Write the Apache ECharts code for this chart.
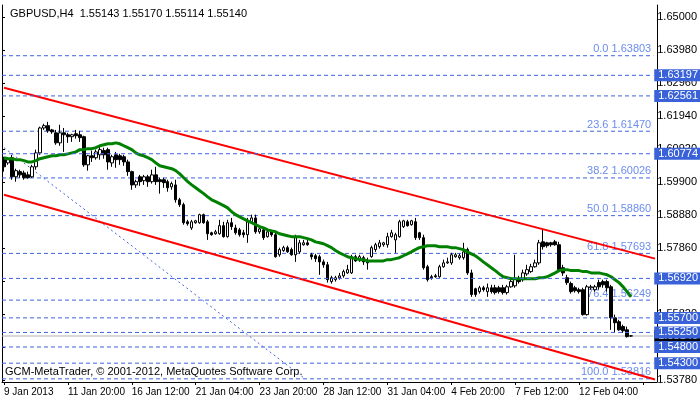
<!DOCTYPE html>
<html><head><meta charset="utf-8">
<script src="https://cdn.jsdelivr.net/npm/echarts@6/dist/echarts.min.js"></script>
<style>html,body{margin:0;padding:0;background:#fff}#c{width:700px;height:402px}</style>
</head><body><div id="c"></div>
<script>
const OPEN=[1.6059,1.6049,1.6065,1.6006,1.6022,1.6018,1.6012,1.6006,1.6037,1.6080,1.6157,1.6164,1.6151,1.6142,1.6111,1.6142,1.6136,1.6130,1.6139,1.6136,
1.6130,1.6043,1.6071,1.6065,1.6074,1.6087,1.6090,1.6049,1.6074,1.6071,1.6068,1.6052,1.6022,1.5981,1.6006,1.5994,1.6006,1.5991,1.6012,1.5997,
1.5997,1.5991,1.5975,1.5981,1.5935,1.5920,1.5867,1.5848,1.5864,1.5864,1.5889,1.5867,1.5833,1.5830,1.5830,1.5855,1.5821,1.5864,1.5848,1.5842,
1.5833,1.5827,1.5867,1.5879,1.5836,1.5842,1.5821,1.5836,1.5827,1.5765,1.5778,1.5787,1.5781,1.5765,1.5774,1.5796,1.5802,1.5765,1.5762,1.5759,
1.5743,1.5734,1.5682,1.5688,1.5694,1.5700,1.5709,1.5709,1.5759,1.5750,1.5756,1.5746,1.5759,1.5781,1.5790,1.5796,1.5796,1.5821,1.5811,1.5821,
1.5852,1.5867,1.5858,1.5867,1.5833,1.5818,1.5728,1.5697,1.5700,1.5697,1.5728,1.5740,1.5740,1.5759,1.5756,1.5756,1.5781,1.5709,1.5660,1.5651,
1.5663,1.5651,1.5663,1.5663,1.5663,1.5663,1.5648,1.5666,1.5669,1.5691,1.5688,1.5706,1.5713,1.5728,1.5740,1.5805,1.5802,1.5802,1.5805,1.5796,
1.5725,1.5694,1.5676,1.5663,1.5657,1.5657,1.5580,1.5663,1.5657,1.5679,1.5682,1.5682,1.5666,1.5570,1.5558,1.5543,1.5533,1.55143];
const CLOSE=[1.6037,1.6059,1.6006,1.6025,1.6012,1.6003,1.6003,1.6037,1.6080,1.6157,1.6164,1.6148,1.6145,1.6111,1.6142,1.6136,1.6130,1.6136,1.6133,1.6127,
1.6043,1.6071,1.6065,1.6083,1.6090,1.6074,1.6052,1.6068,1.6059,1.6059,1.6052,1.6022,1.5981,1.5991,1.5991,1.6006,1.5991,1.6012,1.5991,1.5991,
1.5988,1.5972,1.5985,1.5935,1.5920,1.5864,1.5861,1.5867,1.5870,1.5889,1.5864,1.5830,1.5827,1.5836,1.5855,1.5821,1.5864,1.5852,1.5833,1.5827,
1.5827,1.5867,1.5879,1.5836,1.5845,1.5818,1.5836,1.5827,1.5759,1.5781,1.5787,1.5774,1.5765,1.5818,1.5802,1.5802,1.5796,1.5759,1.5753,1.5743,
1.5734,1.5688,1.5694,1.5694,1.5700,1.5713,1.5719,1.5759,1.5746,1.5759,1.5743,1.5740,1.5787,1.5796,1.5802,1.5802,1.5821,1.5833,1.5827,1.5867,
1.5870,1.5855,1.5870,1.5818,1.5818,1.5725,1.5688,1.5694,1.5697,1.5728,1.5740,1.5743,1.5765,1.5765,1.5762,1.5774,1.5709,1.5642,1.5642,1.5663,
1.5657,1.5663,1.5651,1.5648,1.5651,1.5648,1.5666,1.5682,1.5691,1.5682,1.5709,1.5719,1.5728,1.5740,1.5802,1.5790,1.5793,1.5796,1.5796,1.5719,
1.5709,1.5679,1.5651,1.5654,1.5651,1.5580,1.5666,1.5666,1.5666,1.5666,1.5672,1.5663,1.5570,1.5555,1.5533,1.5530,1.5512,1.55140];
const LOW=[1.6022,1.6043,1.5997,1.5991,1.6003,1.5997,1.6000,1.6003,1.6028,1.6074,1.6151,1.6142,1.6139,1.6105,1.6102,1.6083,1.6111,1.6114,1.6124,1.6114,
1.6037,1.6025,1.6052,1.6059,1.6059,1.6062,1.6028,1.6037,1.6034,1.6043,1.6040,1.6009,1.5966,1.5972,1.5978,1.5981,1.5975,1.5985,1.5981,1.5954,
1.5972,1.5960,1.5966,1.5926,1.5913,1.5858,1.5855,1.5842,1.5861,1.5861,1.5861,1.5811,1.5824,1.5827,1.5827,1.5818,1.5818,1.5842,1.5827,1.5821,
1.5818,1.5802,1.5861,1.5830,1.5830,1.5811,1.5818,1.5821,1.5756,1.5759,1.5774,1.5771,1.5762,1.5743,1.5768,1.5793,1.5793,1.5750,1.5743,1.5703,
1.5725,1.5679,1.5676,1.5682,1.5688,1.5694,1.5706,1.5706,1.5743,1.5743,1.5734,1.5719,1.5756,1.5774,1.5784,1.5790,1.5787,1.5818,1.5771,1.5818,
1.5848,1.5852,1.5855,1.5811,1.5811,1.5719,1.5682,1.5688,1.5694,1.5694,1.5725,1.5737,1.5734,1.5756,1.5750,1.5750,1.5703,1.5635,1.5635,1.5645,
1.5651,1.5635,1.5645,1.5642,1.5645,1.5642,1.5642,1.5663,1.5663,1.5676,1.5682,1.5700,1.5709,1.5725,1.5734,1.5781,1.5787,1.5790,1.5793,1.5713,
1.5700,1.5672,1.5645,1.5648,1.5645,1.5577,1.5577,1.5657,1.5651,1.5657,1.5663,1.5651,1.5533,1.5524,1.5530,1.5524,1.5509,1.55114];
const HIGH=[1.6068,1.6065,1.6074,1.6031,1.6028,1.6025,1.6022,1.6043,1.6090,1.6161,1.6170,1.6176,1.6154,1.6151,1.6167,1.6157,1.6142,1.6139,1.6151,1.6148,
1.6133,1.6074,1.6087,1.6090,1.6099,1.6096,1.6096,1.6074,1.6083,1.6077,1.6074,1.6059,1.6025,1.5997,1.6012,1.6012,1.6012,1.6028,1.6037,1.6003,
1.6003,1.5997,1.5991,1.5997,1.5941,1.5926,1.5873,1.5873,1.5873,1.5892,1.5892,1.5873,1.5836,1.5842,1.5873,1.5867,1.5873,1.5879,1.5858,1.5848,
1.5842,1.5879,1.5889,1.5889,1.5852,1.5848,1.5842,1.5842,1.5836,1.5787,1.5793,1.5793,1.5787,1.5827,1.5811,1.5811,1.5811,1.5771,1.5768,1.5765,
1.5750,1.5743,1.5700,1.5700,1.5709,1.5719,1.5734,1.5765,1.5765,1.5765,1.5762,1.5756,1.5793,1.5802,1.5811,1.5805,1.5833,1.5842,1.5833,1.5873,
1.5873,1.5873,1.5873,1.5879,1.5836,1.5827,1.5734,1.5703,1.5706,1.5734,1.5750,1.5756,1.5771,1.5771,1.5768,1.5802,1.5787,1.5719,1.5663,1.5669,
1.5669,1.5676,1.5672,1.5672,1.5669,1.5672,1.5672,1.5691,1.5765,1.5700,1.5719,1.5734,1.5737,1.5750,1.5811,1.5842,1.5805,1.5805,1.5811,1.5805,
1.5734,1.5703,1.5682,1.5669,1.5663,1.5663,1.5672,1.5672,1.5672,1.5688,1.5688,1.5688,1.5672,1.5580,1.5564,1.5549,1.5543,1.55170];
const MA=[1.6065,1.6062,1.6062,1.6059,1.6059,1.6056,1.6052,1.6052,1.6056,1.6062,1.6065,1.6068,1.6071,1.6071,1.6074,1.6074,1.6077,1.6080,1.6083,1.6090,
1.6090,1.6093,1.6093,1.6096,1.6102,1.6105,1.6108,1.6108,1.6111,1.6108,1.6102,1.6096,1.6090,1.6080,1.6074,1.6071,1.6065,1.6059,1.6049,1.6040,
1.6037,1.6034,1.6031,1.6025,1.6015,1.6003,1.5991,1.5981,1.5972,1.5963,1.5954,1.5944,1.5935,1.5929,1.5923,1.5917,1.5910,1.5898,1.5889,1.5882,
1.5876,1.5870,1.5864,1.5858,1.5852,1.5848,1.5842,1.5839,1.5836,1.5830,1.5827,1.5824,1.5821,1.5821,1.5821,1.5818,1.5815,1.5811,1.5805,1.5802,
1.5799,1.5793,1.5787,1.5778,1.5771,1.5765,1.5759,1.5756,1.5753,1.5750,1.5750,1.5746,1.5746,1.5746,1.5746,1.5746,1.5750,1.5750,1.5753,1.5756,
1.5762,1.5768,1.5774,1.5781,1.5787,1.5790,1.5793,1.5793,1.5793,1.5790,1.5790,1.5790,1.5787,1.5787,1.5784,1.5781,1.5774,1.5768,1.5762,1.5753,
1.5743,1.5734,1.5725,1.5716,1.5706,1.5697,1.5694,1.5691,1.5691,1.5691,1.5691,1.5691,1.5691,1.5691,1.5694,1.5694,1.5697,1.5703,1.5709,1.5716,
1.5719,1.5719,1.5716,1.5716,1.5716,1.5713,1.5713,1.5709,1.5709,1.5709,1.5706,1.5703,1.5697,1.5688,1.5679,1.5666,1.5651,1.5635];
const N_SLOTS=164;
const X_LABELS={0:"9 Jan 2013",16:"11 Jan 20:00",32:"16 Jan 12:00",48:"21 Jan 04:00",64:"23 Jan 20:00",80:"28 Jan 12:00",96:"31 Jan 04:00",112:"4 Feb 20:00",128:"7 Feb 12:00",144:"12 Feb 04:00"};
const Y_TICK_MIN=1.5378, Y_TICK_MAX=1.65, Y_TICK_STEP=0.0102;
const FIB=[["0.0",1.63803],["23.6",1.61470],["38.2",1.60026],["50.0",1.58860],["61.8",1.57693],["76.4",1.56249],["100.0",1.53816]];
const HLINES=[1.63197,1.62561,1.60774,1.56920,1.55700,1.55250,1.54800,1.54300];
const LAST=1.55140;
const UPPER=[[0,1.62811],[163,1.57530]];
const LOWER=[[0,1.59505],[163,1.53792]];
const DIAG=[[0,1.6096],[75,1.5385]];

const cats=[];for(let i=0;i<N_SLOTS;i++)cats.push(X_LABELS[i]||'');
const candles=OPEN.map((o,i)=>[o,CLOSE[i],LOW[i],HIGH[i]]);
const F="Liberation Sans";
const blue='#3f63e0';
function hline(v,color,type,label,z){
  return {type:'line',xAxisIndex:1,yAxisIndex:1,data:[[0,v],[1,v]],symbol:'none',silent:true,z:z,
    lineStyle:{color:color,type:type,width:1},endLabel:label};
}
const hl=[];
hl.push(hline(LAST,'#b0b0b0','solid',{show:true,formatter:LAST.toFixed(5),color:'#fff',backgroundColor:'#000',padding:[1,4,0,4],fontFamily:F,fontSize:11,align:'left',verticalAlign:'middle',distance:1},1));
FIB.forEach(f=>hl.push(hline(f[1],blue,[4,3],{show:true,formatter:f[0]+' '+f[1].toFixed(5),color:'#6b8cf0',fontFamily:F,fontSize:11,align:'right',verticalAlign:'bottom',offset:[-2,-1],distance:0},1)));
HLINES.forEach(v=>hl.push(hline(v,blue,[4,3],{show:true,formatter:v.toFixed(5),color:'#fff',backgroundColor:'#3a62d8',padding:[1,4,0,4],fontFamily:F,fontSize:11,align:'left',verticalAlign:'middle',distance:1},6)));

const chart=echarts.init(document.getElementById('c'),null,{renderer:'canvas'});
chart.setOption({
 animation:false,
 title:{text:'GBPUSD,H4  1.55143 1.55170 1.55114 1.55140',left:5,top:3,textStyle:{fontFamily:F,fontSize:11,fontWeight:'normal',color:'#000'}},
 graphic:[{type:'text',left:5,top:366,z:0,style:{text:'GCM-MetaTrader, © 2001-2012, MetaQuotes Software Corp.',font:'11px "Liberation Sans"',fill:'#000'}}],
 grid:[{left:2,right:43,top:5,bottom:20},{left:2,right:43,top:17,bottom:22}],
 xAxis:[{type:'category',data:cats,gridIndex:0,boundaryGap:true,
   axisLine:{lineStyle:{color:'#000'}},
   axisTick:{show:true,interval:(i)=>i%16===0,alignWithLabel:true,length:3,lineStyle:{color:'#000'}},
   axisLabel:{interval:(i)=>i%16===0,align:'left',margin:5,color:'#000',fontFamily:F,fontSize:10,hideOverlap:false},splitLine:{show:false}},
  {type:'value',gridIndex:1,show:false,min:0,max:1}],
 yAxis:[{type:'value',gridIndex:0,position:'right',min:1.537172,max:1.653709,axisLine:{show:true,lineStyle:{color:'#000'}},axisTick:{show:false},axisLabel:{show:false},splitLine:{show:false}},
  {type:'value',gridIndex:1,position:'right',min:Y_TICK_MIN,max:Y_TICK_MAX,interval:Y_TICK_STEP,axisLine:{show:false},axisTick:{show:true,length:3,lineStyle:{color:'#000'}},
   axisLabel:{formatter:v=>v.toFixed(5),color:'#000',fontFamily:F,fontSize:11,margin:4},splitLine:{show:false}},
  {type:'value',gridIndex:0,position:'left',min:1.537172,max:1.653709,axisLine:{show:true,lineStyle:{color:'#000'}},axisTick:{show:false},axisLabel:{show:false},splitLine:{show:false}}],
 series:hl.concat([
  {type:'line',data:UPPER,symbol:'none',lineStyle:{color:'#ff0000',width:2},z:3,silent:true},
  {type:'line',data:LOWER,symbol:'none',lineStyle:{color:'#ff0000',width:2},z:3,silent:true},
  {type:'line',data:DIAG,symbol:'none',lineStyle:{color:blue,width:1,type:[2,3]},z:2,silent:true},
  {type:'candlestick',data:candles,barWidth:3,z:4,
   itemStyle:{color:'#fff',color0:'#000',borderColor:'#000',borderColor0:'#000',borderWidth:1}},
  {type:'line',data:MA,symbol:'none',lineStyle:{color:'#008000',width:3},z:5,silent:true}
 ])
});
</script></body></html>
